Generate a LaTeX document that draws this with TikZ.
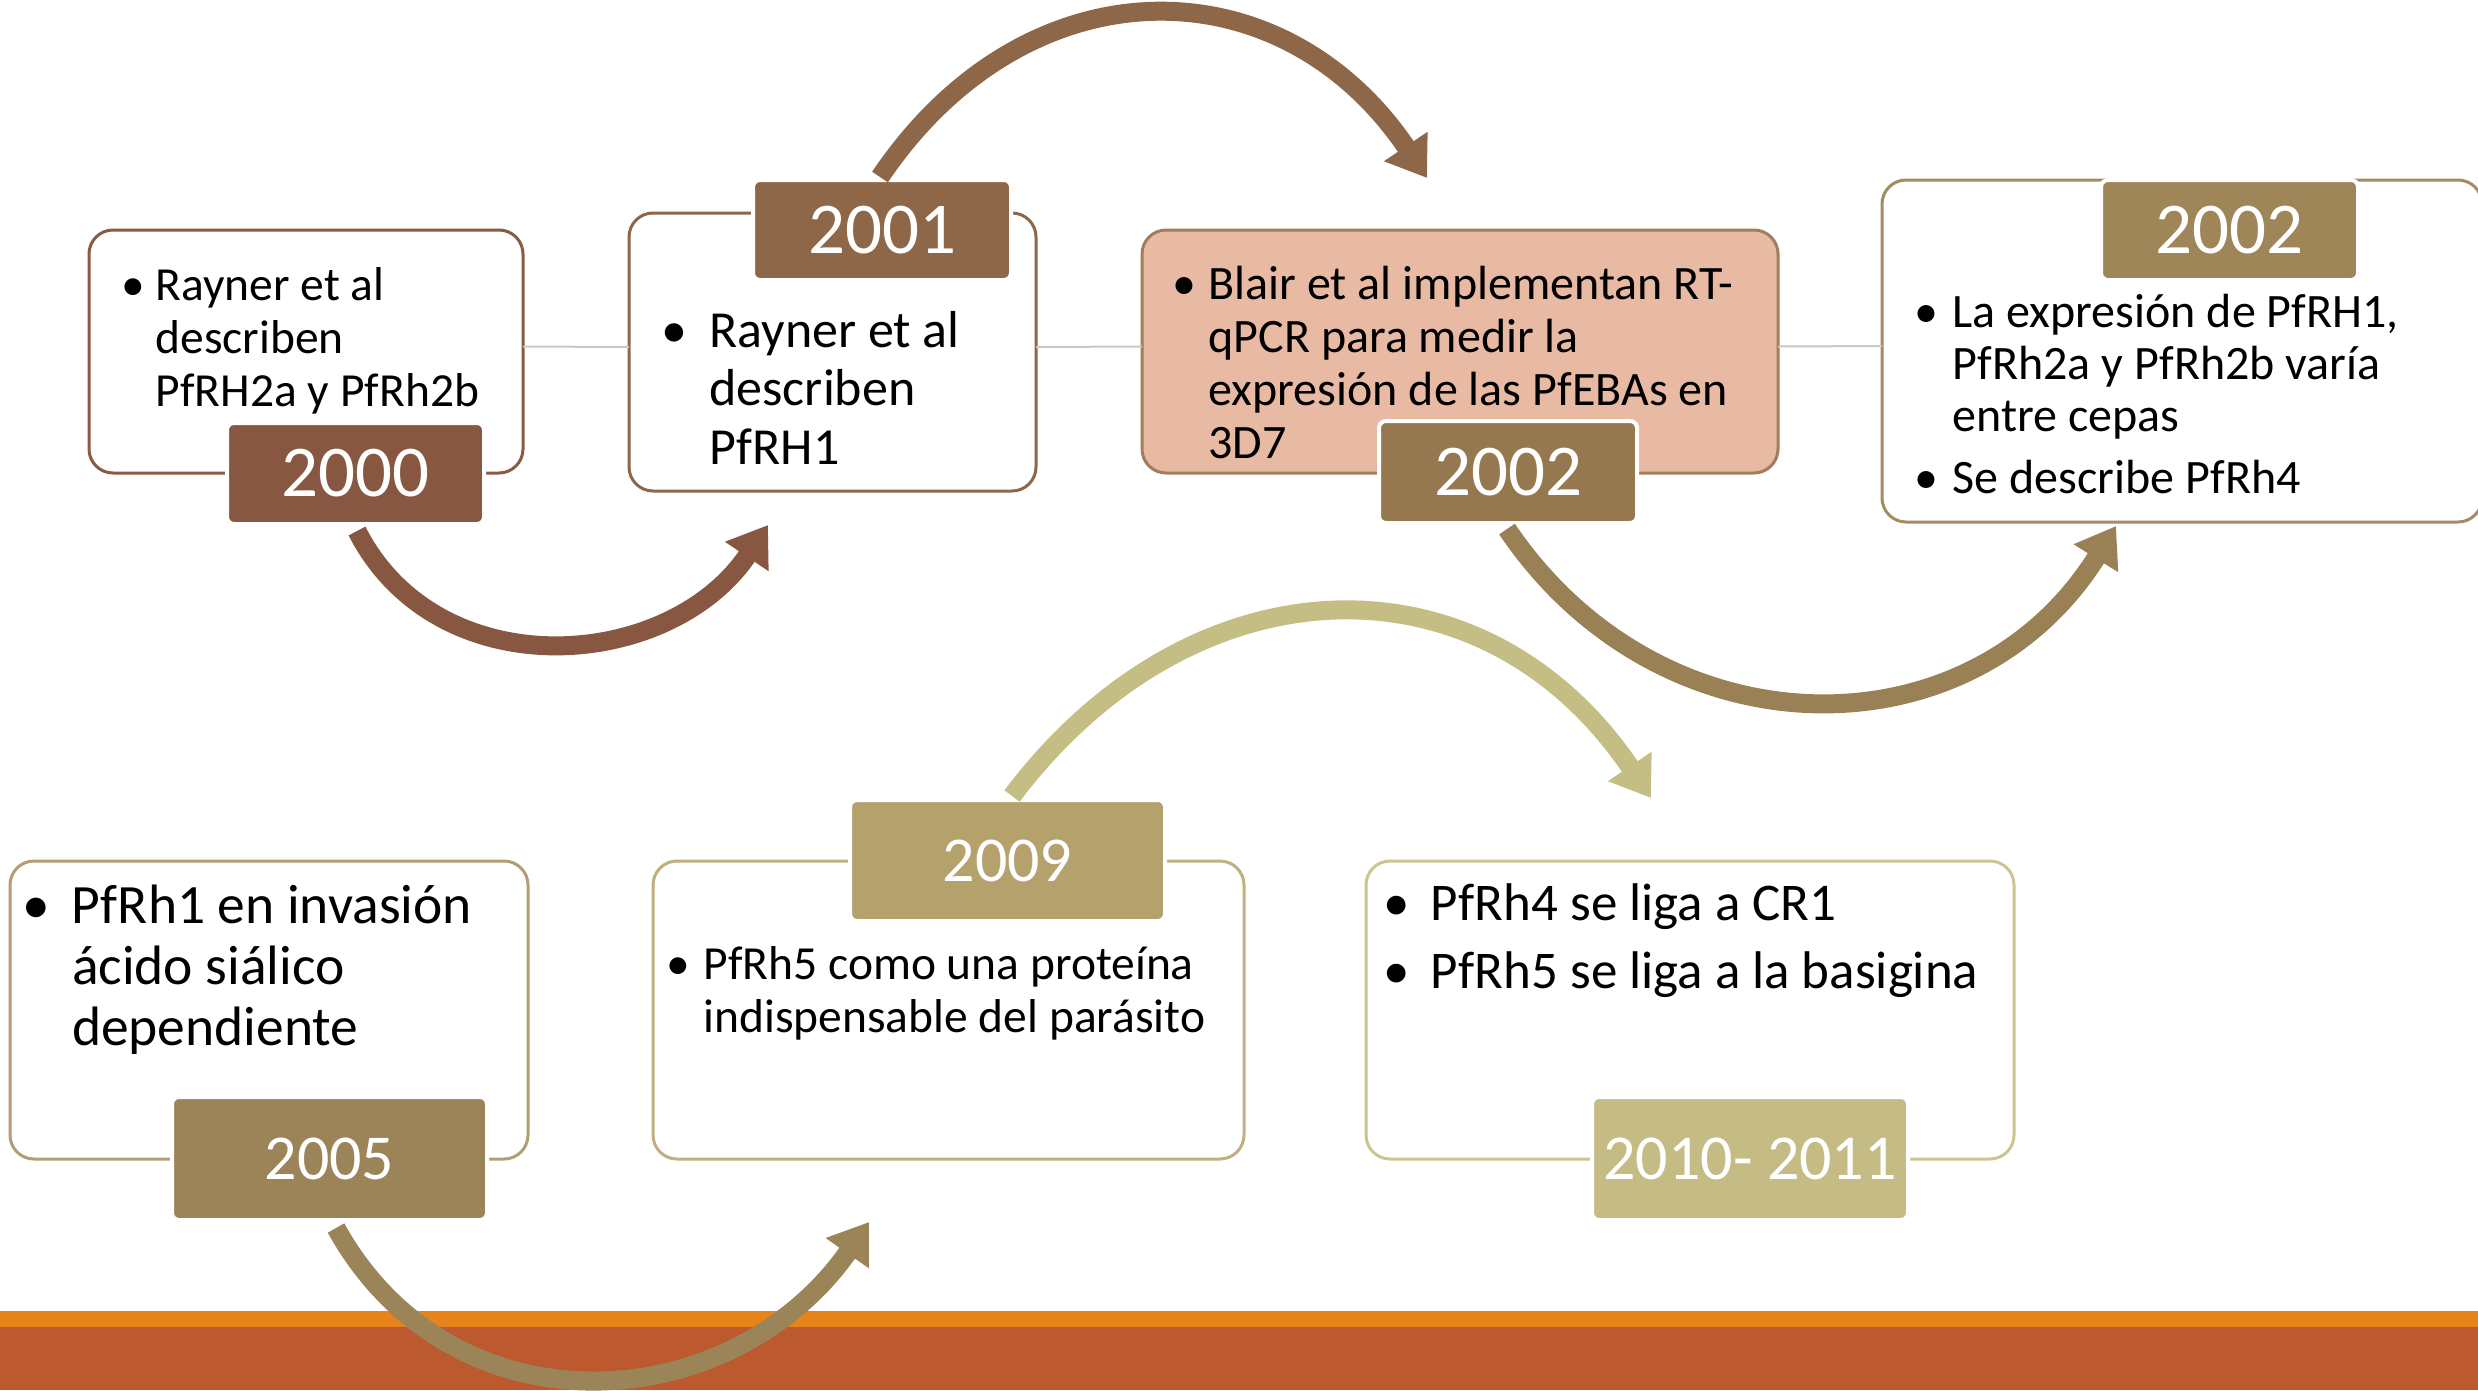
\documentclass[tikz,border=0pt]{standalone}
\usepackage{fontspec}
\setmainfont{Carlito}
\usetikzlibrary{arrows.meta}
\definecolor{cA}{HTML}{875741}
\definecolor{cB}{HTML}{8E6749}
\definecolor{cC}{HTML}{967850}
\definecolor{cD}{HTML}{9E8659}
\definecolor{cE}{HTML}{9C8459}
\definecolor{cF}{HTML}{B4A16C}
\definecolor{cG}{HTML}{C4BC84}
\definecolor{arrC}{HTML}{9A8055}
\definecolor{arrG}{HTML}{C4BE84}
\definecolor{bA}{HTML}{8A5B43}
\definecolor{bC}{HTML}{A07E5C}
\definecolor{bD}{HTML}{A38D60}
\definecolor{bE}{HTML}{B29E72}
\definecolor{bF}{HTML}{C0B080}
\definecolor{bG}{HTML}{CBC592}
\definecolor{pinkfill}{HTML}{E8B9A3}
\definecolor{bandO}{HTML}{E6831A}
\definecolor{bandR}{HTML}{BD592E}
\definecolor{tline}{HTML}{C8C8C8}
\begin{document}
\begin{tikzpicture}[x=1pt,y=-1pt,
  box/.style={draw, line width=3pt, rounded corners=24pt, fill=white, inner sep=0pt, outer sep=0pt, anchor=north west},
  tab/.style={draw=white, line width=4pt, rounded corners=7pt, inner sep=0pt, outer sep=0pt, anchor=north west, text=white},
  bigyear/.style={font=\fontsize{73}{80}\selectfont},
  smallyear/.style={font=\fontsize{64}{70}\selectfont},
  txt/.style={anchor=base west, inner sep=0pt, outer sep=0pt, text=black},
  arr/.style={line width=19pt, -{Triangle[width=50pt,length=38pt]}}]
\useasboundingbox (0,0) rectangle (2478,1390);
% bottom band
\fill[bandO] (0,1311) rectangle (2478,1327);
\fill[bandR] (0,1327) rectangle (2478,1390);
% boxes
\node[box, draw=bA, minimum width=434pt, minimum height=243pt] (b1) at (89,230) {};
\node[box, draw=cB, minimum width=407pt, minimum height=278pt] (b2) at (629,213) {};
\node[box, draw=bC, fill=pinkfill, minimum width=636pt, minimum height=243pt] (b3) at (1142,230) {};
\node[box, draw=bD, minimum width=600pt, minimum height=342pt] (b4) at (1882,180) {};
\node[box, draw=bE, minimum width=518pt, minimum height=298pt] (b5) at (10,861) {};
\node[box, draw=bF, minimum width=591pt, minimum height=298pt] (b6) at (653,861) {};
\node[box, draw=bG, minimum width=648pt, minimum height=298pt] (b7) at (1366,861) {};
% timeline line
\draw[tline, line width=2pt] ([yshift=5pt]b1.east) -- ([yshift=5pt]b2.west);
\draw[tline, line width=2pt] ([yshift=5pt]b2.east) -- ([yshift=5pt]b3.west);
\draw[tline, line width=2pt] ([yshift=5pt]b3.east) -- ([yshift=5pt]b4.west);
% year tabs
\node[tab, bigyear, fill=cA, minimum width=257pt, minimum height=101pt] (t1) at (227,423) {2000};
\node[tab, bigyear, fill=cB, minimum width=258pt, minimum height=100pt] (t2) at (753,180) {2001};
\node[tab, bigyear, fill=cC, minimum width=258pt, minimum height=102pt] (t3) at (1379,421) {2002};
\node[tab, bigyear, fill=cD, minimum width=257pt, minimum height=100pt] (t4) at (2101,180) {2002};
\node[tab, smallyear, fill=cE, minimum width=315pt, minimum height=123pt] (t5) at (172,1097) {2005};
\node[tab, smallyear, fill=cF, minimum width=315pt, minimum height=121pt] (t6) at (850,800) {2009};
\node[tab, smallyear, fill=cG, minimum width=316pt, minimum height=123pt] (t7) at (1592,1097) {2010- 2011};
% texts
\node[txt, font=\fontsize{47.5}{53}\selectfont] (x1) at (121,300)
 {\begin{tabular}[t]{@{}l@{}l@{}}\makebox[34.5pt][l]{\textbullet}&Rayner et al\\&describen\\&PfRH2a y PfRh2b\end{tabular}};
\node[txt, font=\fontsize{52}{58.5}\selectfont] (x2) at (661,347)
 {\begin{tabular}[t]{@{}l@{}l@{}}\makebox[48.4pt][l]{\textbullet}&Rayner et al\\&describen\\&PfRH1\end{tabular}};
\node[txt, font=\fontsize{48}{53}\selectfont] (x3) at (1172,299)
 {\begin{tabular}[t]{@{}l@{}l@{}}\makebox[36.6pt][l]{\textbullet}&Blair et al implementan RT-\\&qPCR para medir la\\&expresión de las PfEBAs en\\&3D7\end{tabular}};
\node[txt, font=\fontsize{48}{52}\selectfont] (x4) at (1914,327)
 {\begin{tabular}[t]{@{}l@{}l@{}}\makebox[38.6pt][l]{\textbullet}&La expresión de PfRH1,\\&PfRh2a y PfRh2b varía\\&entre cepas\\[10pt]\textbullet&Se describe PfRh4\end{tabular}};
\node[txt, font=\fontsize{55.5}{61}\selectfont] (x5) at (22,923)
 {\begin{tabular}[t]{@{}l@{}l@{}}\makebox[50pt][l]{\textbullet}&PfRh1 en invasión\\&ácido siálico\\&dependiente\end{tabular}};
\node[txt, font=\fontsize{47.5}{53}\selectfont] (x6) at (666,979)
 {\begin{tabular}[t]{@{}l@{}l@{}}\makebox[37.6pt][l]{\textbullet}&PfRh5 como una proteína\\&indispensable del parásito\end{tabular}};
\node[txt, font=\fontsize{53}{58}\selectfont] (x7) at (1383,920)
 {\begin{tabular}[t]{@{}l@{}l@{}}\makebox[48pt][l]{\textbullet}&PfRh4 se liga a CR1\\[10pt]\textbullet&PfRh5 se liga a la basigina\end{tabular}};
% arrow end points
\coordinate (a1s) at (357,531);  \coordinate (a1e) at (768,525);
\coordinate (a2s) at (880,177);  \coordinate (a2e) at (1427,178);
\coordinate (a3s) at (1507,529); \coordinate (a3e) at (2116,526);
\coordinate (a4s) at (1012,796); \coordinate (a4e) at (1651,798);
\coordinate (a5s) at (336,1228); \coordinate (a5e) at (869,1222);
\draw[arr, cA] (a1s) to[out=-63,in=-124,looseness=1.1] (a1e);
\draw[arr, cB] (a2s) to[out=56,in=124,looseness=1.22] (a2e);
\draw[arr, arrC] (a3s) to[out=-56,in=-122,looseness=1.15] (a3e);
\draw[arr, arrG] (a4s) to[out=53,in=124,looseness=1.2] (a4e);
\draw[arr, cE] (a5s) to[out=-61,in=-125,looseness=1.15] (a5e);
\end{tikzpicture}
\end{document}
